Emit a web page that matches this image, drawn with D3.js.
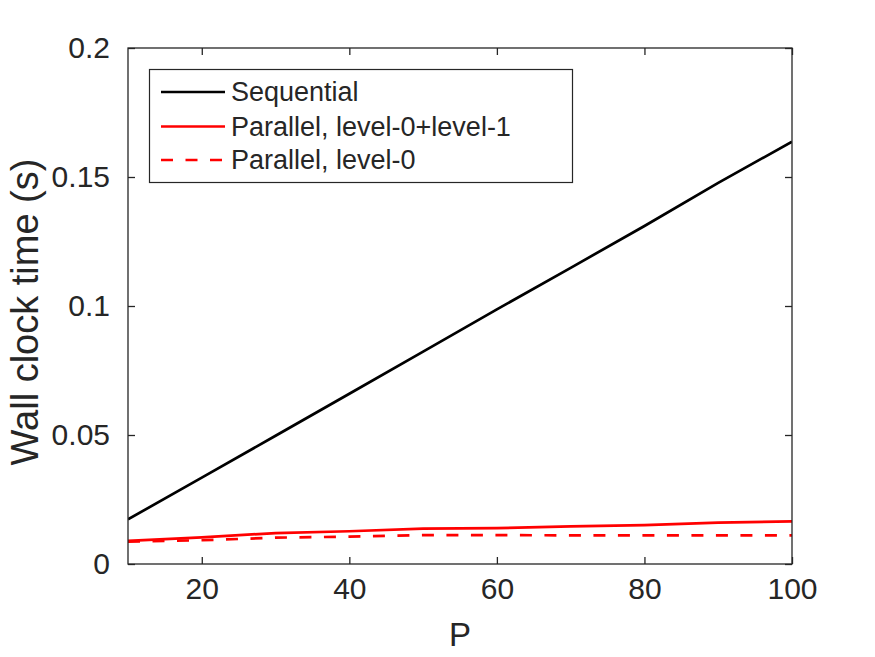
<!DOCTYPE html>
<html>
<head>
<meta charset="utf-8">
<script src="https://cdn.jsdelivr.net/npm/d3@7"></script>
<style>
  html, body { margin: 0; padding: 0; background: #fff; }
  svg { display: block; }
  text { font-family: "Liberation Sans", Arial, Helvetica, sans-serif; fill: #262626; }
</style>
</head>
<body>
<svg id="chart" width="875" height="657"></svg>
<script>
// values
const P = [10, 20, 30, 40, 50, 60, 70, 80, 90, 100];
const sequential = [0.0173, 0.0335, 0.0497, 0.0660, 0.0823, 0.0987, 0.1148, 0.1310, 0.1477, 0.1637];
const parallelL01 = [0.0090, 0.0103, 0.0120, 0.0127, 0.0137, 0.0139, 0.0146, 0.0151, 0.0160, 0.0165];
const parallelL0 = [0.0087, 0.0092, 0.0102, 0.0106, 0.0112, 0.0112, 0.0111, 0.0111, 0.0111, 0.0111];
const xTicks = [20, 40, 60, 80, 100];
const yTicks = [0, 0.05, 0.1, 0.15, 0.2];

const series = [
    { name: 'Sequential', values: sequential, color: '#000000', dash: null },
    { name: 'Parallel, level-0+level-1', values: parallelL01, color: '#ff0000', dash: null },
    { name: 'Parallel, level-0', values: parallelL0, color: '#ff0000', dash: '12,12.5' }
];

const axisColor = '#262626';
const box = { left: 128, top: 48, right: 792, bottom: 564 };

const svg = d3.select('#chart');

const x = d3.scaleLinear().domain([10, 100]).range([box.left, box.right]);
const y = d3.scaleLinear().domain([0, 0.2]).range([box.bottom, box.top]);

const tickLen = 7;
const fmtY = d => d === 0 ? '0' : String(d);

// data lines (clipped to axes)
svg.append('defs').append('clipPath').attr('id', 'clip')
    .append('rect')
    .attr('x', box.left).attr('y', box.top)
    .attr('width', box.right - box.left).attr('height', box.bottom - box.top);

const line = d3.line()
    .x((d, i) => x(P[i]))
    .y(d => y(d));

const plot = svg.append('g').attr('clip-path', 'url(#clip)');
series.forEach(s => {
    plot.append('path')
        .attr('d', line(s.values))
        .attr('fill', 'none')
        .attr('stroke', s.color)
        .attr('stroke-width', 2.7)
        .attr('stroke-dasharray', s.dash);
});

// axes: bottom/left with labels, top/right mirrored ticks, all inward
const gx = svg.append('g')
    .attr('transform', `translate(0,${box.bottom})`)
    .call(d3.axisBottom(x).tickValues(xTicks).tickSizeInner(-tickLen).tickSizeOuter(0).tickPadding(14));
const gy = svg.append('g')
    .attr('transform', `translate(${box.left},0)`)
    .call(d3.axisLeft(y).tickValues(yTicks).tickFormat(fmtY).tickSizeInner(-tickLen).tickSizeOuter(0).tickPadding(18));
const gt = svg.append('g')
    .attr('transform', `translate(0,${box.top})`)
    .call(d3.axisTop(x).tickValues(xTicks).tickSizeInner(-tickLen).tickSizeOuter(0).tickFormat(''));
const gr = svg.append('g')
    .attr('transform', `translate(${box.right},0)`)
    .call(d3.axisRight(y).tickValues(yTicks).tickSizeInner(-tickLen).tickSizeOuter(0).tickFormat(''));

[gx, gy, gt, gr].forEach(g => {
    g.select('.domain').remove();
    g.selectAll('line').attr('stroke', axisColor).attr('stroke-width', 1.3);
    g.selectAll('text')
        .style('font-family', '"Liberation Sans", Arial, Helvetica, sans-serif')
        .style('font-size', '30px')
        .attr('fill', axisColor);
});

svg.append('rect')
    .attr('x', box.left).attr('y', box.top)
    .attr('width', box.right - box.left).attr('height', box.bottom - box.top)
    .attr('fill', 'none')
    .attr('stroke', axisColor)
    .attr('stroke-width', 1.3);

// axis labels
svg.append('text')
    .attr('x', (box.left + box.right) / 2)
    .attr('y', 646)
    .attr('text-anchor', 'middle')
    .style('font-size', '33px')
    .text('P');

svg.append('text')
    .attr('transform', `translate(38,${(box.top + box.bottom) / 2 + 6}) rotate(-90)`)
    .attr('text-anchor', 'middle')
    .style('font-size', '38px')
    .text('Wall clock time (s)');

// legend
const legend = svg.append('g');
legend.append('rect')
    .attr('x', 149.5).attr('y', 69.5)
    .attr('width', 423).attr('height', 113)
    .attr('fill', '#fff')
    .attr('stroke', axisColor)
    .attr('stroke-width', 1.2);

const rowY = [92, 126.5, 160];
series.forEach((s, i) => {
    legend.append('line')
        .attr('x1', 161).attr('x2', 225)
        .attr('y1', rowY[i]).attr('y2', rowY[i])
        .attr('stroke', s.color)
        .attr('stroke-width', 2.7)
        .attr('stroke-dasharray', s.dash);
    legend.append('text')
        .attr('x', 231)
        .attr('y', rowY[i])
        .attr('dy', '0.35em')
        .style('font-size', '27px')
        .attr('fill', '#000')
        .text(s.name);
});
</script>
</body>
</html>
